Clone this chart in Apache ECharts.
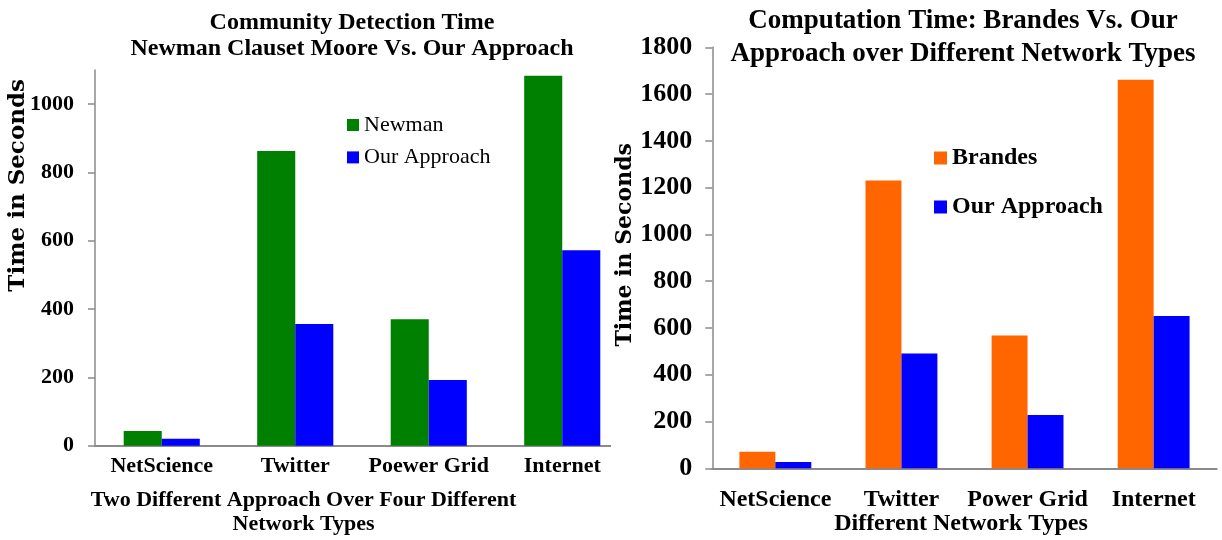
<!DOCTYPE html>
<html><head><meta charset="utf-8">
<script src="https://cdn.jsdelivr.net/npm/echarts@6/dist/echarts.min.js"></script>
<style>
html,body{margin:0;padding:0;background:#fff;width:1222px;height:540px;overflow:hidden}
#lw{position:absolute;left:0;top:0;width:611px;height:540px;overflow:hidden}
#l{position:absolute;left:0;top:0;width:704px;height:540px}
#r{position:absolute;left:611px;top:0;width:704px;height:540px}
</style></head><body>
<div id="lw"><div id="l"></div></div><div id="r"></div>
<script>
const leftCategories = ['NetScience', 'Twitter', 'Poewer Grid', 'Internet'];
const newmanValues = [43, 863, 370, 1083];
const leftOurValues = [20, 356, 192, 572];
const leftTicks = [0, 200, 400, 600, 800, 1000];

const rightCategories = ['NetScience', 'Twitter', 'Power Grid', 'Internet'];
const brandesValues = [71, 1231, 568, 1661];
const rightOurValues = [27, 491, 228, 651];
const rightTicks = [0, 200, 400, 600, 800, 1000, 1200, 1400, 1600, 1800];

const SERIF = "'Liberation Serif', 'Times New Roman', serif";
const DSERIF = "'DejaVu Serif', serif";
const AX = '#8a8a8a';

function makeOption(cfg) {
  return {
    animation: false,
    backgroundColor: 'transparent',
    title: {
      text: cfg.title, left: 'center', top: cfg.titleTop, padding: 0,
      textStyle: { fontFamily: SERIF, fontWeight: 'bold', fontSize: cfg.titleSize, lineHeight: cfg.titleLH, color: '#000' }
    },
    legend: {
      orient: 'vertical', left: cfg.legLeft, top: cfg.legTop, padding: 0, icon: 'rect',
      itemWidth: cfg.legIcon, itemHeight: cfg.legIcon, itemGap: cfg.legGap,
      textStyle: { fontFamily: SERIF, fontWeight: cfg.legWeight, fontSize: cfg.legSize, lineHeight: cfg.legLH, color: '#000' }
    },
    grid: { left: cfg.grid[0], top: cfg.grid[1], width: cfg.grid[2], height: cfg.grid[3], containLabel: false, outerBoundsMode: 'none' },
    xAxis: {
      type: 'category', data: cfg.categories,
      axisLine: { lineStyle: { color: AX, width: 2 } },
      axisTick: { length: 7, lineStyle: { color: AX, width: 1.5 } },
      axisLabel: { interval: 0, margin: cfg.xMargin, fontFamily: SERIF, fontWeight: 'bold', fontSize: cfg.xSize, lineHeight: cfg.xSize, color: '#000' },
      name: cfg.xName, nameLocation: 'middle', nameGap: cfg.xNameGap, nameMoveOverlap: false,
      nameTextStyle: { fontFamily: SERIF, fontWeight: 'bold', fontSize: cfg.xSize, lineHeight: cfg.xNameLH, color: '#000', padding: [0, cfg.xNamePad, 0, 0] }
    },
    yAxis: {
      type: 'value', min: 0, max: cfg.yMax, interval: 200,
      splitLine: { show: false },
      axisLine: { show: true, lineStyle: { color: AX, width: 1.5 } },
      axisTick: { show: true, length: 7, customValues: cfg.ticks, lineStyle: { color: AX, width: 1.5 } },
      axisLabel: { customValues: cfg.ticks, formatter: function (v) { return String(v); }, margin: cfg.yMargin, fontFamily: SERIF, fontWeight: 'bold', fontSize: cfg.ySize, color: '#000' },
      name: 'Time in Seconds', nameLocation: 'middle', nameRotate: 90, nameGap: cfg.yNameGap, nameMoveOverlap: false,
      nameTextStyle: { fontFamily: DSERIF, fontWeight: 'bold', fontSize: cfg.yNameSize, lineHeight: cfg.yNameSize, color: '#000', padding: [0, 0, 0, cfg.yNamePad] }
    },
    series: [
      { type: 'bar', name: cfg.s1name, data: cfg.s1, barGap: '0%', barCategoryGap: '43%', itemStyle: { color: cfg.s1color } },
      { type: 'bar', name: 'Our Approach', data: cfg.s2, barGap: '0%', barCategoryGap: '43%', itemStyle: { color: '#0000ff' } }
    ]
  };
}

const left = echarts.init(document.getElementById('l'));
left.setOption(makeOption({
  title: 'Community Detection Time\nNewman Clauset Moore Vs. Our Approach', titleTop: 10, titleSize: 24, titleLH: 25.7,
  legLeft: 347, legTop: 113, legIcon: 12, legGap: 8.4, legWeight: 'normal', legSize: 22, legLH: 24,
  grid: [95, 70, 534, 375.7],
  categories: leftCategories, xMargin: 10, xSize: 22,
  xName: 'Two Different Approach Over Four Different\nNetwork Types', xNameGap: 42, xNameLH: 24.5, xNamePad: 117,
  yMax: 1100, ticks: leftTicks, yMargin: 21, ySize: 22, yNameGap: 65, yNameSize: 23, yNamePad: 145,
  s1name: 'Newman', s1: newmanValues, s1color: '#008000', s2: leftOurValues
}));

const right = echarts.init(document.getElementById('r'));
right.setOption(makeOption({
  title: 'Computation Time: Brandes Vs. Our\nApproach over Different Network Types', titleTop: 5, titleSize: 27, titleLH: 33,
  legLeft: 323, legTop: 145, legIcon: 13, legGap: 23, legWeight: 'bold', legSize: 24, legLH: 26,
  grid: [101.3, 47.3, 504.4, 421],
  categories: rightCategories, xMargin: 19.5, xSize: 24,
  xName: 'Different Network Types', xNameGap: 43.5, xNameLH: 24, xNamePad: 7,
  yMax: 1800, ticks: rightTicks, yMargin: 20, ySize: 26, yNameGap: 76, yNameSize: 22, yNamePad: 26,
  s1name: 'Brandes', s1: brandesValues, s1color: '#ff6600', s2: rightOurValues
}));
</script>
</body></html>
